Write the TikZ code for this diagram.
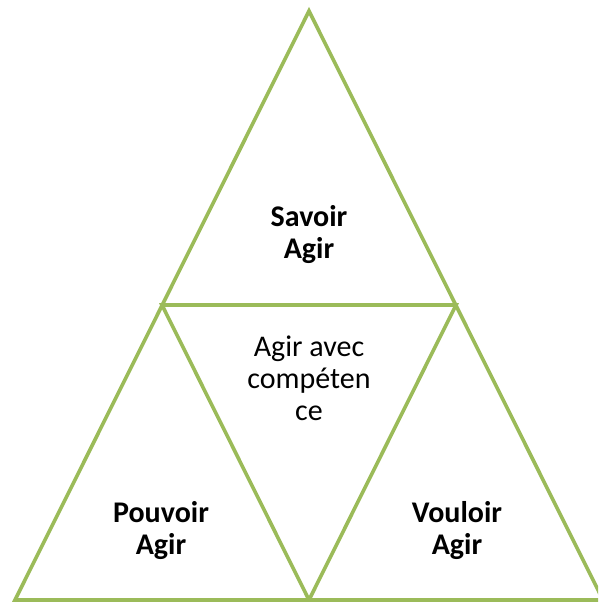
\documentclass[tikz,border=0pt]{standalone}
\usepackage{fontspec}
\setmainfont{Carlito}
\definecolor{leaf}{HTML}{9BBB59}
\tikzset{
  tri/.style={draw=leaf, line width=3.6pt, line join=miter},
  lbl/.style={align=center, inner sep=0pt, font=\fontsize{30}{32}\selectfont},
  blbl/.style={lbl, font=\fontsize{30}{32}\selectfont\bfseries}
}
\begin{document}
\begin{tikzpicture}[x=1pt, y=-1pt]
  \useasboundingbox (0,0) rectangle (598,602);
  \clip (0,0) rectangle (598,602);
  % outer triangle corners and edge midpoints
  \coordinate (top) at (309,11);
  \coordinate (bl) at (15,600);
  \coordinate (br) at (603,600);
  \coordinate (ml) at (162,305);
  \coordinate (mr) at (456,305);
  \coordinate (mb) at (309,600);
  \draw[tri] (top) -- (br) -- (bl) -- cycle;
  \draw[tri] (ml) -- (mr) -- (mb) -- cycle;
  % labels
  \node[blbl] (savoir) at (309,235) {Savoir\\Agir};
  \node[lbl] (centre) at (309,378) {Agir avec\\compéten\\ce};
  \node[blbl] (pouvoir) at (161,531) {Pouvoir\\Agir};
  \node[blbl] (vouloir) at (457,531) {Vouloir\\Agir};
\end{tikzpicture}
\end{document}
